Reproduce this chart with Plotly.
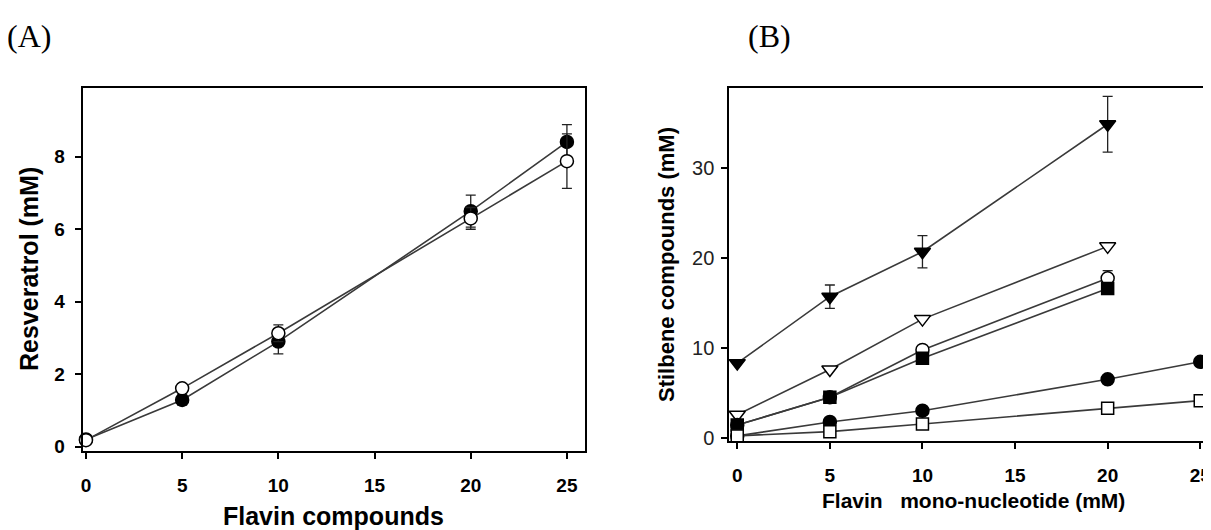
import plotly.graph_objects as go

# ---------------- data ----------------
# Panel A: resveratrol vs flavin compound concentration
a_x = [0, 5, 10, 20, 25]
a_filled = [0.2, 1.29, 2.90, 6.50, 8.41]
a_filled_err = [0.0, 0.14, 0.34, 0.44, 0.48]
a_open = [0.18, 1.61, 3.13, 6.30, 7.88]
a_open_err = [0.0, 0.0, 0.23, 0.30, 0.75]

# Panel B: stilbene compounds vs FMN concentration
b_x4 = [0, 5, 10, 20]
b_x5 = [0, 5, 10, 20, 25]
b_tri_filled = [8.3, 15.7, 20.7, 34.9]
b_tri_filled_err = [0.0, 1.3, 1.8, 3.1]
b_tri_open = [2.55, 7.6, 13.2, 21.3]
b_circ_open = [1.4, 4.5, 9.77, 17.75]
b_circ_open_err = [0.0, 0.0, 0.0, 0.85]
b_sq_filled = [1.41, 4.5, 8.84, 16.6]
b_circ_filled = [0.2, 1.75, 3.0, 6.5, 8.45]
b_sq_open = [0.2, 0.67, 1.52, 3.27, 4.12]

x_ticks = [0, 5, 10, 15, 20, 25]
a_y_ticks = [0, 2, 4, 6, 8]
b_y_ticks = [0, 10, 20, 30]

LINE = "#3a3a3a"
OFF = 8  # page body margin
W, H = 1211 - OFF, 530 - OFF


def px(x):
    return (x - OFF) / W


def py(y):
    return 1 - (y - OFF) / H


fig = go.Figure()


def add(x, y, xa, ya, symbol, fill, err=None, size=13):
    fig.add_trace(go.Scatter(
        x=x, y=y, xaxis=xa, yaxis=ya, mode="lines+markers",
        line=dict(color=LINE, width=1.6),
        marker=dict(symbol=symbol, size=size, color=fill,
                    line=dict(color="black", width=1.5)),
        error_y=(dict(type="data", array=err, visible=True, color="#222",
                      thickness=1.3, width=5) if err else None),
        showlegend=False, cliponaxis=False))


# Panel A
add(a_x, a_filled, "x", "y", "circle", "black", a_filled_err)
add(a_x, a_open, "x", "y", "circle", "white", a_open_err)

# Panel B
add(b_x4, b_tri_filled, "x2", "y2", "triangle-down", "black", b_tri_filled_err, 14)
add(b_x4, b_tri_open, "x2", "y2", "triangle-down", "white", None, 14)
add(b_x4, b_circ_open, "x2", "y2", "circle", "white", b_circ_open_err)
add(b_x4, b_sq_filled, "x2", "y2", "square", "black", None, 12)
add(b_x5, b_circ_filled, "x2", "y2", "circle", "black", None)
add(b_x5, b_sq_open, "x2", "y2", "square", "white", None, 12)

FONT = "Liberation Sans, Arial, sans-serif"

axis_common = dict(showgrid=False, zeroline=False, showline=True,
                   linecolor="black", linewidth=2, ticks="outside",
                   ticklen=6, tickwidth=1.5, tickcolor="black",
                   automargin=False)

fig.update_layout(
    width=W, height=H, margin=dict(l=0, r=0, t=0, b=0),
    plot_bgcolor="white", paper_bgcolor="white",
    xaxis=dict(**axis_common, domain=[px(82.7), px(585)], range=[-0.17, 25.94],
               tickvals=x_ticks, mirror=True, anchor="y",
               tickfont=dict(family=FONT, size=19, color="black", weight="bold"),
               ticklabelstandoff=10),
    yaxis=dict(**axis_common, domain=[py(451), py(88.3)],
               range=[-0.12, 9.89], tickvals=a_y_ticks, mirror=True, anchor="x",
               tickfont=dict(family=FONT, size=19, color="black", weight="bold"),
               ticklabelstandoff=6),
    xaxis2=dict(**axis_common, domain=[px(729.3), 1.0], range=[-0.43, 25.58],
                tickvals=x_ticks, mirror=True, anchor="y2",
                tickfont=dict(family=FONT, size=19, color="black", weight="bold"),
                ticklabelstandoff=10, ticklabeloverflow="allow"),
    yaxis2=dict(**axis_common, domain=[py(441), py(88.3)],
                range=[-0.37, 38.9], tickvals=b_y_ticks, mirror=False, anchor="x2",
                tickfont=dict(family=FONT, size=20, color="#222"),
                ticklabelstandoff=3),
)

annotations = [
    dict(text="(A)", x=5, y=36, font=dict(family="Liberation Serif, Times New Roman, serif", size=32, color="black"),
         xanchor="left"),
    dict(text="(B)", x=746, y=36, font=dict(family="Liberation Serif, Times New Roman, serif", size=32, color="black"),
         xanchor="left"),
    dict(text="Flavin compounds", x=333, y=516,
         font=dict(family=FONT, size=25, color="black", weight="bold")),
    dict(text="Resveratrol (mM)", x=29, y=269, textangle=-90,
         font=dict(family=FONT, size=25, color="black", weight="bold")),
    dict(text="Stilbene compounds (mM)", x=667, y=265, textangle=-90,
         font=dict(family=FONT, size=22, color="black", weight="bold")),
    dict(text="Flavin\u00a0\u00a0\u00a0mono-nucleotide (mM)", x=974, y=500,
         font=dict(family=FONT, size=21, color="black", weight="bold")),
]
for a in annotations:
    a.setdefault("xanchor", "center")
    fig.add_annotation(xref="paper", yref="paper", showarrow=False,
                       x=px(a.pop("x")), y=py(a.pop("y")), yanchor="middle", **a)

fig.write_html("out.html")
